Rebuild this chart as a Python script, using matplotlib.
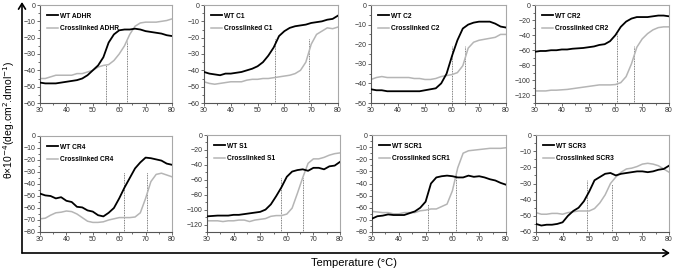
import numpy as np
import matplotlib
matplotlib.use("Agg")
import matplotlib.pyplot as plt
from matplotlib.patches import FancyArrowPatch
from matplotlib.ticker import MultipleLocator

plt.rcParams['font.family'] = ['Liberation Sans', 'DejaVu Sans']

temps = list(range(30, 81, 2))

names = ["ADHR", "C1", "C2", "CR2", "CR4", "S1", "SCR1", "SCR3"]

wt_adhr = [-47.5, -48, -48, -48, -47.5, -47, -46.5, -46, -45, -43, -40, -37, -32, -23, -18, -15.5, -15, -15, -14.5, -15, -16, -16.5, -17, -17.5, -18.5, -19]
xl_adhr = [-45, -45, -44, -43, -43, -43, -43, -42, -42, -41, -40, -38, -37, -36.5, -34, -30, -25, -18, -13, -11, -10.5, -10.5, -10.5, -10, -9.5, -8.5]

wt_c1 = [-41, -42, -42.5, -43, -42, -42, -41.5, -41, -40, -39, -37.5, -35, -31, -26, -19, -16, -14, -13, -12.5, -12, -11, -10.5, -10, -9, -8.5, -6.5]
xl_c1 = [-47, -48, -48.5, -48, -47.5, -47, -47, -47, -46, -45.5, -45.5, -45, -45, -44.5, -44, -43.5, -43, -42, -40, -35, -24, -18, -16, -14, -14.5, -13.5]

wt_c2 = [-43, -43.5, -43.5, -44, -44, -44, -44, -44, -44, -44, -43.5, -43, -42.5, -40, -35, -26, -18, -12, -10, -9, -8.5, -8.5, -8.5, -9.5, -11, -11.5]
xl_c2 = [-38, -37, -36.5, -37, -37, -37, -37, -37, -37.5, -37.5, -38, -38, -37.5, -36.5, -36, -35.5, -34.5, -31, -22, -19, -18, -17.5, -17, -16.5, -15, -15]

wt_cr2 = [-62, -61, -61, -60, -60, -59, -59, -58, -57.5, -57, -56, -55, -53, -52, -48, -40, -29, -22, -18, -16, -16, -16, -15, -14, -14, -15]
xl_cr2 = [-114, -114, -114, -113, -113, -112.5, -112, -111, -110, -109, -108, -107, -106, -106, -106, -105.5, -103, -95, -78, -56, -45, -38, -33, -30, -29, -29]

wt_cr4 = [-48, -49.5, -50, -52, -51, -54, -55, -59, -59.5, -62, -63, -66, -67, -64, -60, -52, -43, -35, -27, -22, -18, -18.5, -19.5, -20.5, -23, -24]
xl_cr4 = [-69, -68.5, -66, -64, -63.5, -62.5, -63, -65, -68, -71, -72, -72, -71.5, -70, -69, -68, -68, -68, -67.5, -64, -52, -38, -32, -31, -32.5, -34]

wt_s1 = [-109, -108.5, -108, -108, -108, -107, -107, -106, -105, -104, -103, -100, -93, -82, -70, -56, -49, -47, -46, -48, -44, -44, -46, -42, -41, -36]
xl_s1 = [-115, -115, -115, -116, -115, -115, -114, -114, -116, -114, -113, -112, -109, -108, -108, -106, -98, -78, -57, -38, -32, -32, -30, -27, -25, -24]

wt_scr1 = [-69, -67, -66.5, -65.5, -66, -66, -66, -64.5, -63, -60, -55, -40, -35, -34, -33.5, -34, -35, -35, -33.5, -34.5, -34, -35, -36.5, -37.5, -39.5, -41]
xl_scr1 = [-63, -63.5, -64, -64, -65, -65, -64, -64, -64, -62.5, -62, -61, -61, -59, -57, -46, -27, -15, -13, -12.5, -12, -11.5, -11, -11, -11, -10.5]

wt_scr3 = [-55, -56, -55.5, -55.5, -55, -54, -50, -47, -45, -41, -35, -28, -26, -24, -23.5, -25, -24, -23.5, -23, -22.5, -22.5, -23, -22.5, -21.5, -21, -19]
xl_scr3 = [-48, -49, -49, -48.5, -48.5, -49, -48, -47.5, -47, -47, -47, -45.5, -42, -37, -30, -26, -23, -21, -20.5, -19.5, -18, -17.5, -18, -19, -21, -23]

wt_series = [wt_adhr, wt_c1, wt_c2, wt_cr2, wt_cr4, wt_s1, wt_scr1, wt_scr3]
xl_series = [xl_adhr, xl_c1, xl_c2, xl_cr2, xl_cr4, xl_s1, xl_scr1, xl_scr3]

ymins = [-60, -60, -50, -130, -80, -130, -80, -60]
ysteps = [10, 10, 10, 20, 10, 20, 10, 10]

# transition temperatures (x) and the height the dotted markers reach (y)
tm_wt = [55, 56.5, 60, 60.5, 62, 58, 51, 49]
tm_wt_top = [-37, -21, -21, -38, -30, -57, -57, -28]
tm_xl = [63, 69, 65, 67, 70.5, 66, 61.5, 58.5]
tm_xl_top = [-22, -21, -21, -55, -30, -57, -30, -30]

# axes boxes in pixels (left, right, top, bottom)
boxes = [(40, 172, 5, 103), (204, 338, 5, 103), (371, 506, 5, 103), (535, 669, 5, 103),
         (40, 172, 136, 232), (207, 340, 135, 232), (372, 506, 135, 232), (536, 669, 135, 232)]

W, H = 675, 270
fig = plt.figure(figsize=(W / 100, H / 100), dpi=100)

for i, name in enumerate(names):
    l, r, t, b = boxes[i]
    ax = fig.add_axes([l / W, 1 - b / H, (r - l) / W, (b - t) / H])
    ax.plot(temps, xl_series[i], color='#b5b5b5', lw=1.1, label=f"Crosslinked {name}", zorder=2)
    ax.plot(temps, wt_series[i], color='black', lw=1.3, label=f"WT {name}", zorder=3)
    ax.plot([tm_wt[i], tm_wt[i]], [ymins[i], tm_wt_top[i]], color='#555555', lw=0.6, ls=(0, (1, 1)), zorder=1)
    ax.plot([tm_xl[i], tm_xl[i]], [ymins[i], tm_xl_top[i]], color='#555555', lw=0.6, ls=(0, (1, 1)), zorder=1)
    ax.set_xlim(30, 80)
    ax.set_ylim(ymins[i], 0)
    ax.xaxis.set_major_locator(MultipleLocator(10))
    ax.xaxis.set_minor_locator(MultipleLocator(5))
    ax.yaxis.set_major_locator(MultipleLocator(ysteps[i]))
    ax.yaxis.set_minor_locator(MultipleLocator(ysteps[i] / 2))
    ax.tick_params(axis='both', which='major', labelsize=5, length=2, width=0.5,
                   color='#333333', labelcolor='#333333', pad=1)
    ax.tick_params(axis='both', which='minor', length=1.2, width=0.5, color='#333333')
    ax.tick_params(top=False, right=False)
    for s in ax.spines.values():
        s.set_color('#a8a8a8')
        s.set_linewidth(0.8)
    ax.spines['left'].set_color('#555555')
    ax.spines['bottom'].set_color('#555555')
    handles, labels = ax.get_legend_handles_labels()
    leg = ax.legend(handles[::-1], labels[::-1], loc='upper left', frameon=False,
                    prop={'size': 4.8, 'weight': 'bold'}, handlelength=1.6,
                    handletextpad=0.3, labelspacing=0.8, borderaxespad=0.3,
                    bbox_to_anchor=(0.02, 0.97))

# global axis arrows
x0 = 22 / W
y0 = 1 - 253 / H
fig.add_artist(FancyArrowPatch((x0, y0), (x0, 1 - 2 / H), transform=fig.transFigure,
                               arrowstyle='->,head_length=4,head_width=2.5', lw=1.2, color='black',
                               mutation_scale=1, shrinkA=0, shrinkB=0))
fig.add_artist(FancyArrowPatch((x0, y0), (670 / W, y0), transform=fig.transFigure,
                               arrowstyle='->,head_length=4,head_width=2.5', lw=1.2, color='black',
                               mutation_scale=1, shrinkA=0, shrinkB=0))

fig.text(9 / W, 1 - 120 / H, r"θ×10$^{-4}$(deg.cm$^{2}$.dmol$^{-1}$)", rotation=90,
         ha='center', va='center', fontsize=7.5)
fig.text(354 / W, 1 - 263 / H, "Temperature (°C)", ha='center', va='center', fontsize=8)

fig.savefig("out.png", dpi=100)
